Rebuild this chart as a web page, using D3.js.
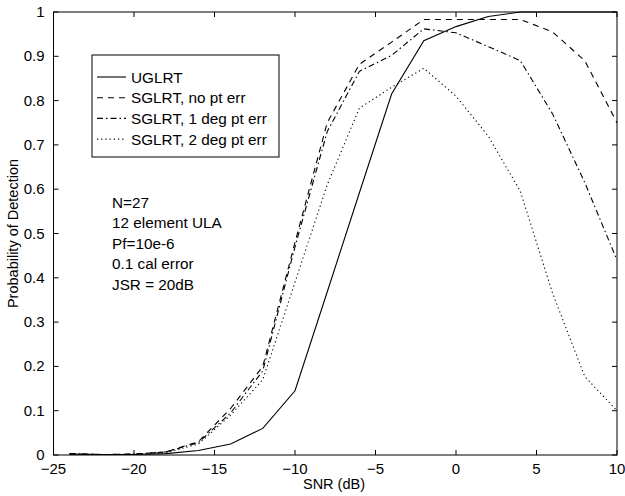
<html>
  <head>
    <meta charset="utf-8">
    <script src="https://d3js.org/d3.v7.min.js"></script>
  </head>
  <style type="text/css">
    body { margin: 0; background: #fff; }
    svg { font-family: "Liberation Sans", Arial, sans-serif; }
    .line { fill: none; stroke: #000; stroke-width: 1.1; }
    .tick-label { font-size: 15px; }
    .axis-label { font-size: 14.5px; }
    .note { font-size: 15.3px; }
  </style>
  <body>
    <div id="chart"></div>
  </body>
  <script type="text/javascript">
    // SNR grid (dB)
    var snr = [-24, -22, -20, -18, -16, -14, -12, -10, -8, -6, -4, -2, 0, 2, 4, 6, 8, 10];

    // probability of detection per detector
    var uglrt     = [0.002, 0.001, 0.001, 0.003, 0.010, 0.025, 0.060, 0.145, 0.368, 0.592, 0.815, 0.935, 0.967, 0.990, 1.000, 1.000, 1.000, 1.000];
    var sglNoErr  = [0.003, 0.001, 0.002, 0.007, 0.030, 0.105, 0.200, 0.480, 0.750, 0.882, 0.932, 0.983, 0.983, 0.983, 0.983, 0.955, 0.890, 0.750];
    var sgl1deg   = [0.003, 0.001, 0.002, 0.007, 0.028, 0.095, 0.190, 0.470, 0.730, 0.866, 0.902, 0.962, 0.953, 0.922, 0.890, 0.770, 0.615, 0.440];
    var sgl2deg   = [0.002, 0.001, 0.001, 0.005, 0.025, 0.090, 0.170, 0.390, 0.610, 0.783, 0.830, 0.873, 0.810, 0.720, 0.595, 0.365, 0.177, 0.100];

    var seriesNames = ["UGLRT", "SGLRT, no pt err", "SGLRT, 1 deg pt err", "SGLRT, 2 deg pt err"];
    var seriesDash = [null, "6,5", "6,3,1.5,3", "1.2,3"];

    var xTicks = [-25, -20, -15, -10, -5, 0, 5, 10];
    var yTicks = [0, 0.1, 0.2, 0.3, 0.4, 0.5, 0.6, 0.7, 0.8, 0.9, 1];
    var yTickLabels = ["0", "0.1", "0.2", "0.3", "0.4", "0.5", "0.6", "0.7", "0.8", "0.9", "1"];

    var notes = ["N=27", "12 element ULA", "Pf=10e-6", "0.1 cal error", "JSR = 20dB"];

    var width = 625, height = 496;
    var plotL = 53.5, plotR = 617, plotT = 12, plotB = 455;

    var svg = d3.select("#chart").append("svg")
      .attr("width", width)
      .attr("height", height);

    var x = d3.scaleLinear().domain([-25, 10]).range([plotL, plotR]);
    var y = d3.scaleLinear().domain([0, 1]).range([plotB, plotT]);

    /* ticks inside on all four sides (matlab style) */
    var tickLen = 5;
    var axes = svg.append("g").attr("stroke", "#000").attr("stroke-width", 1);
    xTicks.forEach(function(t) {
      axes.append("line").attr("x1", x(t)).attr("x2", x(t)).attr("y1", plotB).attr("y2", plotB - tickLen);
      axes.append("line").attr("x1", x(t)).attr("x2", x(t)).attr("y1", plotT).attr("y2", plotT + tickLen);
    });
    yTicks.forEach(function(t) {
      axes.append("line").attr("x1", plotL).attr("x2", plotL + tickLen).attr("y1", y(t)).attr("y2", y(t));
      axes.append("line").attr("x1", plotR).attr("x2", plotR - tickLen).attr("y1", y(t)).attr("y2", y(t));
    });

    svg.append("g").selectAll("text")
      .data(xTicks).enter()
      .append("text")
      .attr("class", "tick-label")
      .attr("x", d => x(d))
      .attr("y", plotB + 19)
      .attr("text-anchor", "middle")
      .text(d => d3.format("")(d));

    svg.append("g").selectAll("text")
      .data(yTicks).enter()
      .append("text")
      .attr("class", "tick-label")
      .attr("x", plotL - 9)
      .attr("y", d => y(d) + 5)
      .attr("text-anchor", "end")
      .text((d, i) => yTickLabels[i]);

    svg.append("text")
      .attr("class", "axis-label")
      .attr("x", 334)
      .attr("y", 489)
      .attr("text-anchor", "middle")
      .text("SNR (dB)");

    svg.append("text")
      .attr("class", "axis-label")
      .attr("transform", `translate(18, ${(plotT + plotB) / 2}) rotate(-90)`)
      .attr("text-anchor", "middle")
      .text("Probability of Detection");

    /* curves */
    var series = [uglrt, sglNoErr, sgl1deg, sgl2deg];
    var line = d3.line()
      .x((d, i) => x(snr[i]))
      .y(d => y(d));

    svg.append("g").selectAll("path")
      .data(series).enter()
      .append("path")
      .attr("class", "line")
      .attr("d", d => line(d))
      .attr("stroke-dasharray", (d, i) => seriesDash[i]);

    /* frame */
    svg.append("rect")
      .attr("x", plotL).attr("y", plotT)
      .attr("width", plotR - plotL).attr("height", plotB - plotT)
      .attr("fill", "none").attr("stroke", "#000");

    /* legend */
    var lg = svg.append("g");
    lg.append("rect")
      .attr("x", 92).attr("y", 55)
      .attr("width", 187).attr("height", 102)
      .attr("fill", "#fff").attr("stroke", "#000");
    seriesNames.forEach(function(name, i) {
      var yy = 77 + i * 20.7;
      lg.append("line")
        .attr("class", "line")
        .attr("x1", 97).attr("x2", 126)
        .attr("y1", yy).attr("y2", yy)
        .attr("stroke-dasharray", seriesDash[i]);
      lg.append("text")
        .attr("class", "note")
        .attr("x", 131)
        .attr("y", yy + 5.5)
        .text(name);
    });

    /* annotation */
    svg.append("g").selectAll("text")
      .data(notes).enter()
      .append("text")
      .attr("class", "note")
      .attr("x", 112)
      .attr("y", (d, i) => 207.5 + i * 20.6)
      .text(d => d);
  </script>
</html>
